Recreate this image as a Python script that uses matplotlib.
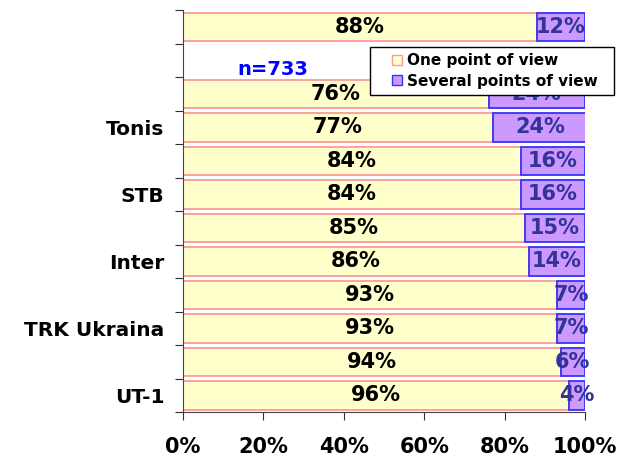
import matplotlib
matplotlib.use("Agg")
import matplotlib.pyplot as plt
from matplotlib.lines import Line2D
import numpy as np

# bottom to top; empty names are slots without a visible label
channels = ["UT-1", "", "TRK Ukraina", "", "Inter", "", "STB", "", "Tonis", "", "", ""]
one_view = [96, 94, 93, 93, 86, 85, 84, 84, 77, 76, None, 88]
several_views = [4, 6, 7, 7, 14, 15, 16, 16, 24, 24, None, 12]
x_ticks = [0, 20, 40, 60, 80, 100]
series_names = ["One point of view", "Several points of view"]

plt.rcParams["font.family"] = "DejaVu Sans"
plt.rcParams["font.weight"] = "bold"

fig = plt.figure(figsize=(6.27, 4.63), dpi=100)
ax = fig.add_axes([0.292, 0.110, 0.641, 0.868])

y = np.arange(len(channels))
one = np.array([np.nan if v is None else v for v in one_view], dtype=float)
sev = np.array([np.nan if v is None else v for v in several_views], dtype=float)
mask = ~np.isnan(one)

yellow, pink = "#FFFFCC", "#FF9999"
purple, blue = "#CC99FF", "#3333FF"

ax.barh(y[mask], one[mask], height=0.85, color=yellow, edgecolor=pink, linewidth=1.3)
ax.barh(y[mask], sev[mask], left=one[mask], height=0.85, color=purple,
        edgecolor=blue, linewidth=1.3)

for yi, a, b in zip(y[mask], one[mask], sev[mask]):
    ax.text(a / 2, yi, f"{a:.0f}%", ha="center", va="center",
            fontsize=15, fontweight="bold", color="black")
    ax.text(a + b / 2, yi, f"{b:.0f}%", ha="center", va="center",
            fontsize=15, fontweight="bold", color="#333399")

ax.set_xlim(0, 100)
ax.set_ylim(-0.5, len(channels) - 0.5)
ax.set_xticks(x_ticks)
ax.set_xticklabels([f"{t}%" for t in x_ticks], fontsize=15, fontweight="bold")
ax.set_yticks(list(y - 0.5) + [len(channels) - 0.5])
ax.set_yticklabels([])
ax.set_yticks(y, minor=True)
ax.set_yticklabels(channels, minor=True, fontsize=14.5, fontweight="bold")
ax.tick_params(axis="y", which="minor", length=0, pad=13.5)
ax.tick_params(axis="y", which="major", length=6, direction="out", color="#333333")
ax.tick_params(axis="x", length=6, direction="out", pad=12, color="#333333")

for s in ["top", "right"]:
    ax.spines[s].set_visible(False)
ax.spines["left"].set_color("#444444")
ax.spines["bottom"].set_color("#444444")

ax.text(0.134, 0.853, "n=733", transform=ax.transAxes, color="#0000FF",
        fontsize=14, fontweight="bold", ha="left", va="center")

handles = [
    Line2D([], [], linestyle="none", marker="s", markersize=7.5,
           markerfacecolor=yellow, markeredgecolor=pink, markeredgewidth=1),
    Line2D([], [], linestyle="none", marker="s", markersize=7.5,
           markerfacecolor=purple, markeredgecolor=blue, markeredgewidth=1),
]
leg = ax.legend(handles, [n + "  " for n in series_names], loc="upper left",
                bbox_to_anchor=(0.465, 0.908), fontsize=11,
                frameon=True, fancybox=False, framealpha=1, edgecolor="black",
                handlelength=2.75, handletextpad=-0.72,
                borderpad=0.4, labelspacing=0.35, borderaxespad=0)
leg.get_frame().set_linewidth(1.0)
for t in leg.get_texts():
    t.set_fontweight("bold")

fig.savefig("out.png", dpi=100)
